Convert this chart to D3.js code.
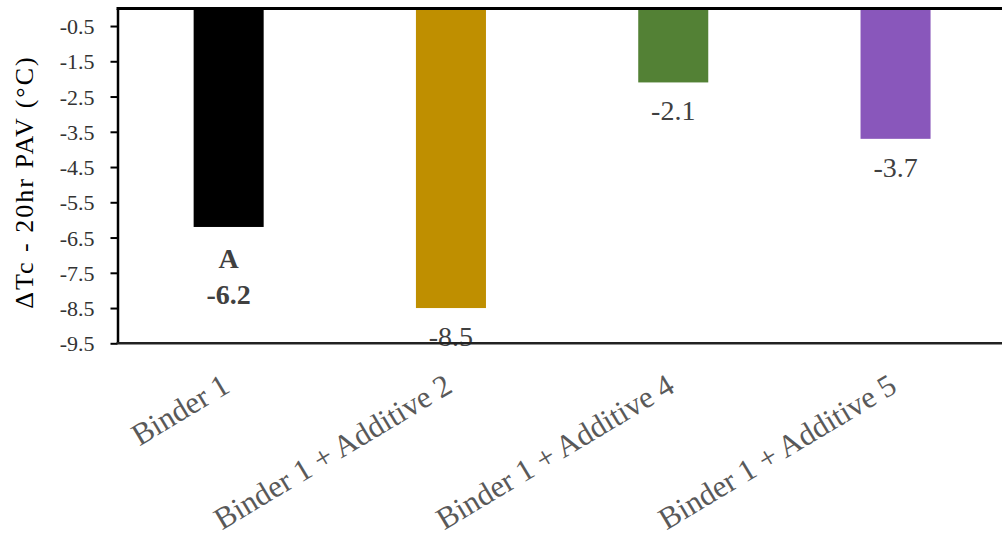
<!DOCTYPE html>
<html><head><meta charset="utf-8">
<script src="https://cdn.jsdelivr.net/npm/d3@7"></script>
<style>
html,body{margin:0;padding:0;background:#fff;}
svg{display:block;font-family:"Liberation Serif","Times New Roman",serif;}
</style></head>
<body>
<svg id="c" width="1002" height="548"></svg>
<script>
const categories = ["Binder 1","Binder 1 + Additive 2","Binder 1 + Additive 4","Binder 1 + Additive 5"];
const values = [-6.2, -8.5, -2.1, -3.7];
const colors = ["#000000","#BF8F00","#538135","#8957BB"];
const valueLabels = ["-6.2","-8.5","-2.1","-3.7"];
const letterLabels = ["A","","",""];
const tickValues = [-0.5,-1.5,-2.5,-3.5,-4.5,-5.5,-6.5,-7.5,-8.5,-9.5];
const yTitle = "ΔTc - 20hr PAV (°C)";

(function(){
const svg = d3.select("#c");
const plotLeft = 117.5, plotTop = 8.4, plotBottom = 343.3;
const x = d3.scaleBand().domain(categories).range([plotLeft, plotLeft + 4*222.3]).paddingInner(0.685).paddingOuter(0.3425);
const y = d3.scaleLinear().domain([0, -9.5]).range([plotTop, plotBottom]);

// bars
svg.selectAll("rect.bar").data(values).enter().append("rect")
  .attr("x",(d,i)=>x(categories[i]))
  .attr("width",x.bandwidth())
  .attr("y",y(0))
  .attr("height",d=>y(d)-y(0))
  .attr("fill",(d,i)=>colors[i]);

// value labels
svg.selectAll("text.val").data(values).enter().append("text")
  .attr("x",(d,i)=>x(categories[i])+x.bandwidth()/2)
  .attr("y",(d,i)=>y(d)+(letterLabels[i]?77:38))
  .attr("text-anchor","middle")
  .attr("font-size",28)
  .attr("font-weight",(d,i)=>letterLabels[i]?"bold":"normal")
  .attr("fill","#404040")
  .text((d,i)=>valueLabels[i]);
values.forEach((d,i)=>{
  if(!letterLabels[i]) return;
  svg.append("text")
    .attr("x",x(categories[i])+x.bandwidth()/2)
    .attr("y",y(d)+41)
    .attr("text-anchor","middle")
    .attr("font-size",28)
    .attr("font-weight","bold")
    .attr("fill","#404040")
    .text(letterLabels[i]);
});

// y axis
const yAxis = d3.axisLeft(y).tickValues(tickValues).tickSize(7).tickSizeOuter(0).tickFormat(d=>d.toFixed(1));
const gy = svg.append("g").attr("transform",`translate(${plotLeft},0)`).call(yAxis);
gy.select(".domain").attr("stroke","#000").attr("stroke-width",2.5);
gy.selectAll(".tick line").attr("stroke","#000").attr("stroke-width",2);
gy.selectAll(".tick text").attr("font-size",22).attr("font-family","Liberation Serif").attr("fill","#333").attr("x",-23).attr("dy","0.34em");

// top line (zero axis) and bottom line
svg.append("line").attr("x1",plotLeft-1).attr("x2",1002).attr("y1",y(0)).attr("y2",y(0)).attr("stroke","#000").attr("stroke-width",3);
svg.append("line").attr("x1",plotLeft-1).attr("x2",1002).attr("y1",plotBottom).attr("y2",plotBottom).attr("stroke","#222").attr("stroke-width",2.5);

// category labels
svg.selectAll("text.cat").data(categories).enter().append("text")
  .attr("transform",d=>`translate(${x(d)+x.bandwidth()/2+3},391) rotate(-31)`)
  .attr("text-anchor","end")
  .attr("font-size",31)
  .attr("fill","#595959")
  .text(d=>d);

// y title
svg.append("text")
  .attr("transform","translate(33,182) rotate(-90)")
  .attr("text-anchor","middle")
  .attr("font-size",26)
  .attr("letter-spacing",2)
  .attr("fill","#000")
  .text(yTitle);
})();
</script>
</body></html>
